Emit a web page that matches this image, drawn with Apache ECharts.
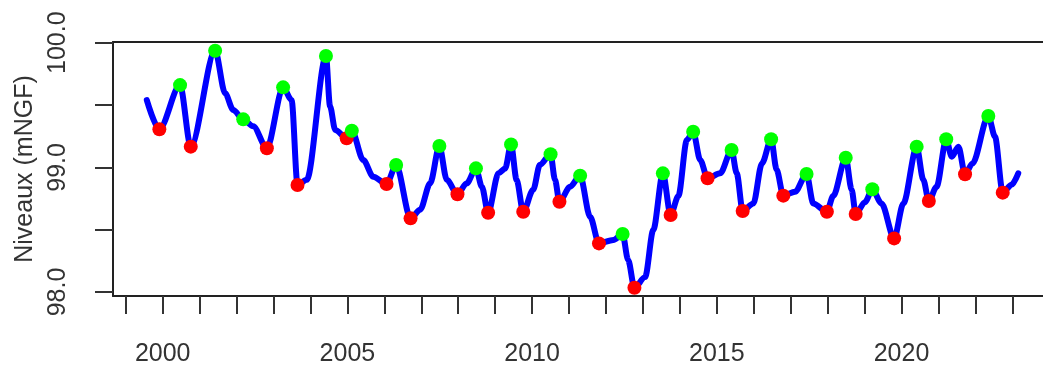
<!DOCTYPE html>
<html>
<head>
<meta charset="utf-8">
<script src="https://cdn.jsdelivr.net/npm/echarts@6/dist/echarts.min.js"></script>
<style>
  html, body { margin: 0; padding: 0; background: #ffffff; }
  #chart { width: 1043px; height: 370px; }
</style>
</head>
<body>
<div id="chart"></div>
<script>
// Piezometric level series (decimal year, level in mNGF)
const lineYears = [
  1999.57, 1999.91, 2000.47, 2000.76, 2001.42, 2001.69, 2001.91, 2002.18, 2002.45, 2002.82,
  2003.26, 2003.49, 2003.65, 2003.90, 2004.42, 2004.53, 2004.67, 2004.98, 2005.12, 2005.43,
  2005.70, 2006.06, 2006.32, 2006.71, 2006.97, 2007.24, 2007.49, 2007.69, 2007.98, 2008.23,
  2008.48, 2008.64, 2008.81, 2009.09, 2009.27, 2009.43, 2009.58, 2009.76, 2010.03, 2010.21,
  2010.50, 2010.62, 2010.74, 2011.03, 2011.30, 2011.57, 2011.81, 2012.20, 2012.45, 2012.60,
  2012.77, 2013.06, 2013.28, 2013.54, 2013.75, 2013.96, 2014.19, 2014.36, 2014.55, 2014.75,
  2015.09, 2015.40, 2015.54, 2015.70, 2015.99, 2016.22, 2016.47, 2016.62, 2016.80, 2017.12,
  2017.43, 2017.61, 2017.98, 2018.15, 2018.49, 2018.65, 2018.76, 2019.01, 2019.21, 2019.46,
  2019.80, 2020.05, 2020.41, 2020.59, 2020.74, 2020.95, 2021.21, 2021.36, 2021.54, 2021.72,
  2021.92, 2022.35, 2022.53, 2022.74, 2022.98, 2023.16
];
const lineLevels = [
  99.54, 99.305, 99.66, 99.166, 99.936, 99.594, 99.46, 99.385, 99.33, 99.153,
  99.642, 99.54, 98.858, 98.90, 99.893, 99.49, 99.30, 99.233, 99.294, 99.059,
  98.925, 98.866, 99.019, 98.591, 98.66, 98.872, 99.171, 98.90, 98.784, 98.872,
  98.992, 98.845, 98.636, 98.952, 98.99, 99.184, 98.90, 98.644, 98.82, 99.02,
  99.105, 98.90, 98.724, 98.845, 98.933, 98.604, 98.39, 98.417, 98.465, 98.256,
  98.034, 98.12, 98.497, 98.952, 98.618, 98.77, 99.22, 99.286, 99.06, 98.912,
  98.952, 99.139, 98.952, 98.65, 98.71, 99.03, 99.225, 98.98, 98.773, 98.805,
  98.947, 98.71, 98.644, 98.77, 99.077, 98.82, 98.626, 98.72, 98.824, 98.71,
  98.43, 98.71, 99.166, 98.90, 98.73, 98.845, 99.225, 99.085, 99.166, 98.945,
  99.03, 99.412, 99.247, 98.797, 98.86, 98.952
];

// Seasonal highs (green)
const highYears = [
  2000.47, 2001.42, 2002.18, 2003.26, 2004.42, 2005.12, 2006.32, 2007.49, 2008.48, 2009.43,
  2010.50, 2011.30, 2012.45, 2013.54, 2014.36, 2015.40, 2016.47, 2017.43, 2018.49, 2019.21,
  2020.41, 2021.21, 2022.35
];
const highLevels = [
  99.66, 99.936, 99.385, 99.642, 99.893, 99.294, 99.019, 99.171, 98.992, 99.184,
  99.105, 98.933, 98.465, 98.952, 99.286, 99.139, 99.225, 98.947, 99.077, 98.824,
  99.166, 99.225, 99.412
];

// Seasonal lows (red)
const lowYears = [
  1999.91, 2000.76, 2002.82, 2003.65, 2004.98, 2006.06, 2006.71, 2007.98, 2008.81, 2009.76,
  2010.74, 2011.81, 2012.77, 2013.75, 2014.75, 2015.70, 2016.80, 2017.98, 2018.76, 2019.80,
  2020.74, 2021.72, 2022.74
];
const lowLevels = [
  99.305, 99.166, 99.153, 98.858, 99.233, 98.866, 98.591, 98.784, 98.636, 98.644,
  98.724, 98.39, 98.034, 98.618, 98.912, 98.65, 98.773, 98.644, 98.626, 98.43,
  98.73, 98.945, 98.797
];

// Axis ticks and labels
const yearTicks = [1999, 2000, 2001, 2002, 2003, 2004, 2005, 2006, 2007, 2008, 2009, 2010,
  2011, 2012, 2013, 2014, 2015, 2016, 2017, 2018, 2019, 2020, 2021, 2022, 2023];
const yearLabels = [2000, 2005, 2010, 2015, 2020];
const levelTicks = [98, 98.5, 99, 99.5, 100];
const levelLabels = [98, 99, 100];

const zip = (xs, ys) => xs.map((x, i) => [x, ys[i]]);

const textColor = '#333333';
const boxColor = '#222222';
const fontFamily = '"Liberation Sans", Arial, Helvetica, sans-serif';
const xMin = 1998.655;
const xMax = 2023.83;

const chart = echarts.init(document.getElementById('chart'), null, { renderer: 'canvas' });
chart.setOption({
  animation: false,
  backgroundColor: '#ffffff',
  grid: {
    left: 113,
    right: 0,
    top: 42,
    bottom: 74,
    show: false
  },
  xAxis: [
    {
      type: 'value',
      position: 'bottom',
      min: xMin,
      max: xMax,
      splitLine: { show: false },
      axisLine: { show: true, lineStyle: { color: boxColor, width: 2 } },
      axisTick: {
        show: true,
        customValues: yearTicks,
        length: 18,
        lineStyle: { color: '#333333', width: 2 }
      },
      axisLabel: {
        customValues: yearLabels,
        formatter: v => String(Math.round(v)),
        color: textColor,
        fontSize: 25,
        fontFamily: fontFamily,
        margin: 46
      }
    },
    {
      // upper edge of the plot frame
      type: 'value',
      position: 'top',
      min: xMin,
      max: xMax,
      splitLine: { show: false },
      axisLine: { show: true, lineStyle: { color: boxColor, width: 2 } },
      axisTick: { show: false },
      axisLabel: { show: false }
    }
  ],
  yAxis: {
    type: 'value',
    min: 97.968,
    max: 100.0056,
    name: 'Niveaux (mNGF)',
    nameLocation: 'middle',
    nameGap: 70,
    nameRotate: 90,
    nameTextStyle: { color: textColor, fontSize: 25, fontFamily: fontFamily },
    splitLine: { show: false },
    axisLine: { show: true, lineStyle: { color: boxColor, width: 2 } },
    axisTick: {
      show: true,
      customValues: levelTicks,
      length: 18,
      lineStyle: { color: '#333333', width: 2 }
    },
    axisLabel: {
      customValues: levelLabels,
      formatter: v => v.toFixed(1),
      rotate: 90,
      color: textColor,
      fontSize: 25,
      fontFamily: fontFamily,
      margin: 42
    }
  },
  series: [
    {
      type: 'line',
      data: zip(lineYears, lineLevels),
      smooth: 0.3,
      smoothMonotone: 'x',
      showSymbol: false,
      lineStyle: { color: '#0000ff', width: 6, cap: 'round', join: 'round' },
      z: 2
    },
    {
      type: 'scatter',
      data: zip(lowYears, lowLevels),
      symbol: 'circle',
      symbolSize: 14,
      itemStyle: { color: '#ff0000', opacity: 1 },
      z: 3
    },
    {
      type: 'scatter',
      data: zip(highYears, highLevels),
      symbol: 'circle',
      symbolSize: 14,
      itemStyle: { color: '#00ff00', opacity: 1 },
      z: 4
    }
  ]
});
</script>
</body>
</html>
